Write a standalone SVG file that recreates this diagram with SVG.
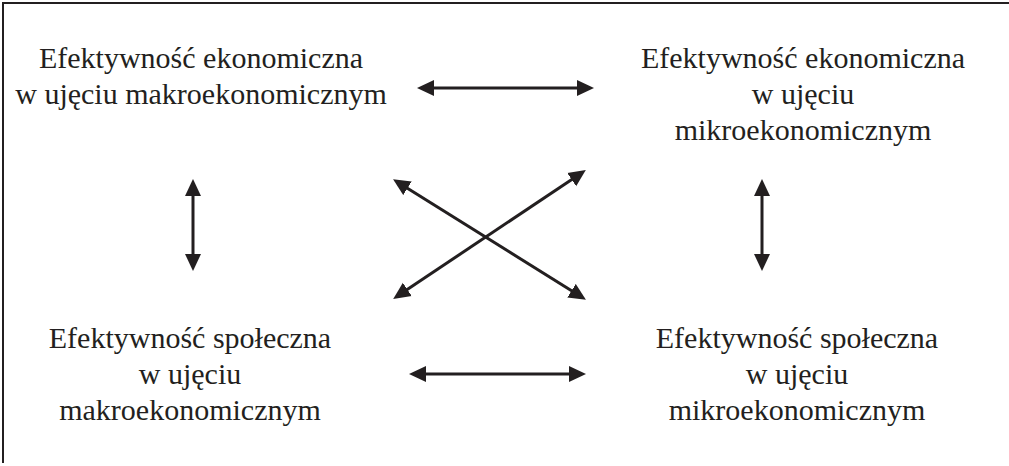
<svg xmlns="http://www.w3.org/2000/svg" width="1009" height="466" viewBox="0 0 1009 466">
<style>
.t{font-family:"Liberation Serif","Times New Roman",serif;font-size:30px;fill:#231f20;text-anchor:middle}
.c{stroke:#231f20;stroke-width:3;fill:none;marker-start:url(#ah);marker-end:url(#ah)}
.b{stroke:#231f20;stroke-width:2;fill:none}
</style>
<defs>
<marker id="ah" markerUnits="userSpaceOnUse" markerWidth="17" markerHeight="17" viewBox="0 0 17 16" refX="10" refY="8" orient="auto-start-reverse">
<path d="M0,0 L17,8 L0,16 z" fill="#231f20"/>
</marker>
<linearGradient id="fade" x1="0" y1="0" x2="1" y2="0">
<stop offset="0.7" stop-color="#231f20"/>
<stop offset="1" stop-color="#9a9a9a"/>
</linearGradient>
</defs>
<g id="frame">
<path class="b" d="M1009,3 L3,3 L3,463"/>
<line x1="2" y1="463" x2="1009" y2="463" stroke="url(#fade)" stroke-width="2"/>
</g>
<g id="node-econ-macro">
<text class="t" x="201" y="68">Efektywność ekonomiczna</text>
<text class="t" x="201" y="104">w ujęciu makroekonomicznym</text>
</g>
<g id="node-econ-micro">
<text class="t" x="803" y="68">Efektywność ekonomiczna</text>
<text class="t" x="803" y="104">w ujęciu</text>
<text class="t" x="803" y="140">mikroekonomicznym</text>
</g>
<g id="node-social-macro">
<text class="t" x="190" y="348">Efektywność społeczna</text>
<text class="t" x="190" y="384">w ujęciu</text>
<text class="t" x="190" y="420">makroekonomicznym</text>
</g>
<g id="node-social-micro">
<text class="t" x="797" y="348">Efektywność społeczna</text>
<text class="t" x="797" y="384">w ujęciu</text>
<text class="t" x="797" y="420">mikroekonomicznym</text>
</g>
<g id="connectors">
<line class="c" x1="424" y1="88" x2="587" y2="88"/>
<line class="c" x1="416" y1="374" x2="579" y2="374"/>
<line class="c" x1="193" y1="186" x2="193" y2="264"/>
<line class="c" x1="762" y1="186" x2="762" y2="264"/>
<line class="c" x1="399" y1="183" x2="580" y2="296"/>
<line class="c" x1="399" y1="295" x2="580" y2="174"/>
</g>
</svg>
